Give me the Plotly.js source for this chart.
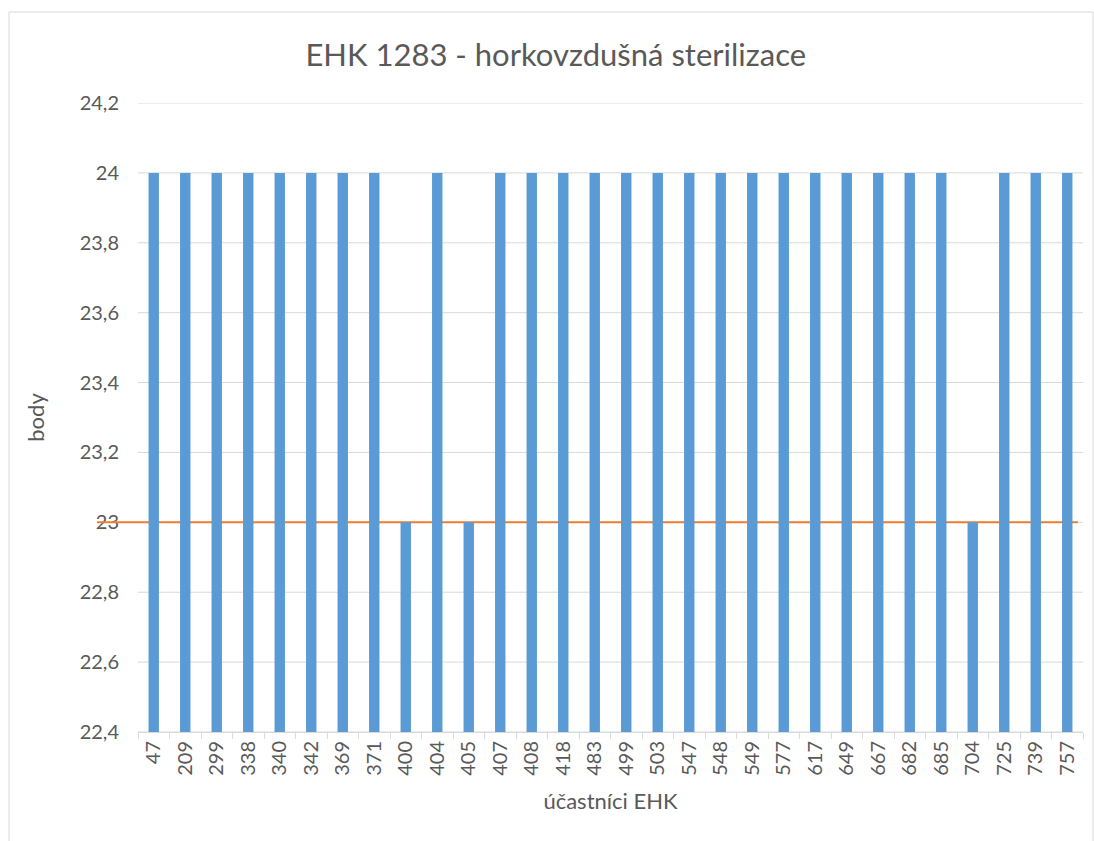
<!DOCTYPE html>
<html>
<head>
<meta charset="utf-8">
<script src="https://cdn.plot.ly/plotly-3.0.1.min.js"></script>
<style>html,body{margin:0;padding:0;background:#fff;}#chart{width:1094px;height:841px;}</style>
</head>
<body>
<div id="chart"></div>
<script>
const participants = ["47","209","299","338","340","342","369","371","400","404","405","407","408","418","483","499","503","547","548","549","577","617","649","667","682","685","704","725","739","757"];
const points = [24,24,24,24,24,24,24,24,23,24,23,24,24,24,24,24,24,24,24,24,24,24,24,24,24,24,23,24,24,24];
const threshold = 23;
const yTicks = [22.4,22.6,22.8,23,23.2,23.4,23.6,23.8,24,24.2];
const yRange = [22.4, 24.2];

const font = "Lato, Open Sans, sans-serif";
const grey = "#595959";
const orange = "#ed7d31";

const gridShapes = yTicks.map(v => ({
  type: "line", xref: "paper", yref: "y", x0: 0, x1: 1, y0: v, y1: v,
  line: {color: "#d9d9d9", width: 1}, layer: "below"
}));
const thrPaper = (threshold - yRange[0]) / (yRange[1] - yRange[0]);

Plotly.newPlot("chart", [{
  type: "bar",
  x: participants,
  y: points,
  marker: {color: "#5b9bd5"},
  width: 0.33,
  hoverinfo: "x+y"
}], {
  width: 1094, height: 841,
  margin: {l: 138, r: 11, t: 103, b: 109},
  paper_bgcolor: "#fff", plot_bgcolor: "rgba(0,0,0,0)",
  separators: ", ",
  showlegend: false,
  title: {text: "EHK 1283 - horkovzdušná sterilizace", font: {family: font, size: 31, color: grey}, x: 0.508, xanchor: "center", y: 0.935, yanchor: "middle"},
  xaxis: {
    type: "category",
    tickangle: -90,
    tickfont: {family: font, size: 20, color: grey},
    ticks: "outside", tickson: "boundaries", ticklen: 6, tickcolor: "#d9d9d9",
    showline: true, linecolor: "#d9d9d9", linewidth: 1,
    showgrid: false,
    title: {text: "účastníci EHK", font: {family: font, size: 22, color: grey}, standoff: 18}
  },
  yaxis: {
    range: yRange,
    tickvals: yTicks,
    tickfont: {family: font, size: 20, color: grey},
    showgrid: false,
    zeroline: false, showline: false,
    ticks: "", ticklen: 0,
    ticklabelstandoff: 18,
    title: {text: "body", font: {family: font, size: 22, color: grey}, standoff: 28}
  },
  shapes: [
    {type: "rect", xref: "paper", yref: "paper", x0: -0.1365, x1: 1.0106, y0: -0.2, y1: 1.1447, line: {color: "#d9d9d9", width: 1}, layer: "below"}
  ].concat(gridShapes).concat([
    {type: "line", xref: "paper", yref: "paper", x0: 0, x1: 0.9947, y0: thrPaper, y1: thrPaper, line: {color: orange, width: 2}, layer: "below"},
    {type: "line", xref: "paper", yref: "paper", x0: -0.0434, x1: 0, y0: thrPaper, y1: thrPaper, line: {color: orange, width: 2}, layer: "above"}
  ])
}, {displayModeBar: false});
</script>
</body>
</html>
